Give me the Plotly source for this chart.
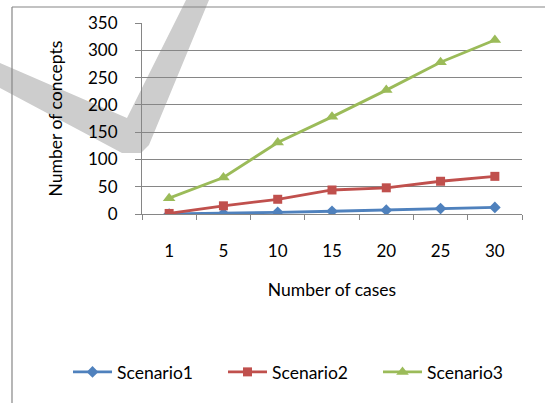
import plotly.graph_objects as go

# Data
cases = ["1", "5", "10", "15", "20", "25", "30"]
scenario1 = [0, 1, 3, 5, 7, 10, 12]
scenario2 = [1, 15, 27, 44, 48, 60, 69]
scenario3 = [29, 67, 131, 178, 227, 278, 319]
y_ticks = [0, 50, 100, 150, 200, 250, 300, 350]

W, H = 545, 403
M_L, M_R, M_T, M_B = 142, 23, 23, 189
FONT = "Lato"
AXIS_GRAY = "#868686"

series = [
    ("Scenario1", scenario1, "#4F81BD", "diamond", 9),
    ("Scenario2", scenario2, "#C0504D", "square", 9),
    ("Scenario3", scenario3, "#9BBB59", "triangle-up", 11),
]

fig = go.Figure()
for name, vals, color, symbol, msize in series:
    fig.add_trace(go.Scatter(
        x=cases, y=vals, name=name, mode="lines+markers",
        line=dict(color=color, width=2.8),
        marker=dict(symbol=symbol, size=msize, color=color),
    ))

PLOT_W = W - M_L - M_R
PLOT_H = H - M_T - M_B


# convert page pixels to plot-area ("paper") fractions
def px_x(v):
    return (v - M_L) / PLOT_W


def px_y(v):
    return (H - M_B - v) / PLOT_H


# Grey check-mark watermark behind the plot
mark = [(0, 63), (127, 118), (186, 0), (209, 0), (149, 145), (141, 153),
        (122, 153), (0, 88)]
path = "M " + " L ".join(f"{px_x(a):.4f},{px_y(b):.4f}" for a, b in mark) + " Z"

shapes = [
    dict(type="path", path=path, xref="paper", yref="paper",
         fillcolor="#cdcdcd", line=dict(width=0), layer="below"),
    # chart frame (top and left edges)
    dict(type="line", xref="paper", yref="paper",
         x0=px_x(12), x1=px_x(W), y0=px_y(7), y1=px_y(7),
         line=dict(color=AXIS_GRAY, width=1.2)),
    dict(type="line", xref="paper", yref="paper",
         x0=px_x(12), x1=px_x(12), y0=px_y(7), y1=px_y(H),
         line=dict(color=AXIS_GRAY, width=1.2)),
]

fig.update_layout(
    width=W, height=H,
    margin=dict(l=M_L, r=M_R, t=M_T, b=M_B, autoexpand=False),
    paper_bgcolor="white",
    plot_bgcolor="rgba(0,0,0,0)",
    font=dict(family=FONT, size=17, color="#000000"),
    shapes=shapes,
    showlegend=True,
    legend=dict(
        orientation="h",
        x=px_x(68), xanchor="left",
        y=px_y(372), yanchor="middle",
        itemwidth=39,
        entrywidth=101, entrywidthmode="pixels",
        font=dict(family=FONT, size=17.5),
        bgcolor="rgba(0,0,0,0)",
    ),
    xaxis=dict(
        type="category", categoryorder="array", categoryarray=cases,
        range=[-0.5, len(cases) - 0.5], automargin=False,
        tickson="boundaries", ticks="outside", ticklen=5,
        tickcolor=AXIS_GRAY, showline=True, linecolor=AXIS_GRAY, linewidth=1.2,
        showgrid=False, ticklabelstandoff=21,
        tickfont=dict(size=17),
        title=dict(text="Number of cases", standoff=24, font=dict(size=17.5)),
    ),
    yaxis=dict(
        range=[0, 350], tickvals=y_ticks, automargin=False,
        ticks="outside", ticklen=6, tickcolor=AXIS_GRAY,
        showline=True, linecolor=AXIS_GRAY, linewidth=1.2,
        showgrid=True, gridcolor=AXIS_GRAY, gridwidth=1.2,
        zeroline=False, ticklabelstandoff=14,
        tickfont=dict(size=17),
        title=dict(text="Number of concepts", standoff=20, font=dict(size=17.5)),
    ),
)

fig.write_html("out.html")
